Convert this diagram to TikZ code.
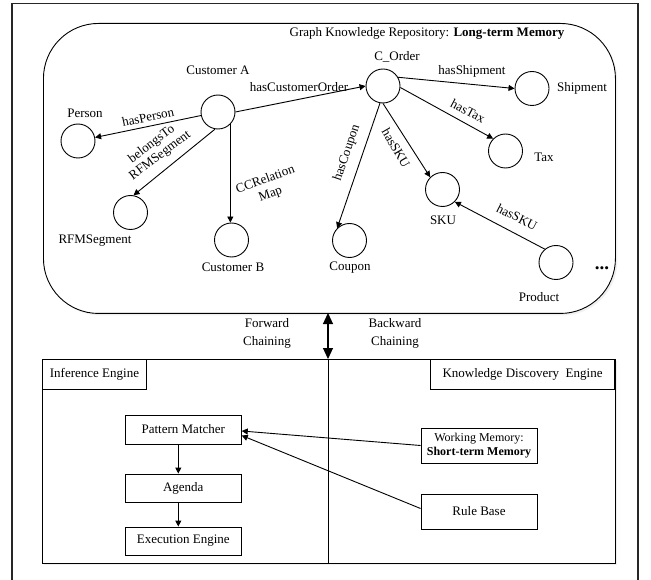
\documentclass[tikz,border=0pt]{standalone}
\usepackage{fontspec}
\setmainfont{Liberation Serif}
\usetikzlibrary{arrows.meta,shadows}

\begin{document}
\begin{tikzpicture}[x=1pt,y=-1pt,
  font=\fontsize{13}{15}\selectfont,
  >={Triangle[length=6pt,width=6pt]},
  ent/.style={circle,draw,line width=0.9pt,minimum size=34pt,inner sep=0pt},
  rel/.style={->,line width=0.9pt},
  box/.style={draw,line width=0.9pt,minimum width=116pt,inner sep=0pt,align=center},
  lbl/.style={inner sep=0pt,align=center},
  soft/.style={drop shadow={opacity=0.12,shadow xshift=2pt,shadow yshift=-2pt}}]
\useasboundingbox (0,0) rectangle (651,580);

% outer frame (open at the bottom edge of the page)
\draw[line width=1.3pt,black!85] (12,590) -- (12,3.5) -- (638,3.5) -- (638,590);

% long-term memory container
\node[draw,line width=0.9pt,rounded corners=55pt,minimum width=572pt,minimum height=290pt,
      anchor=north west,inner sep=0pt,soft,fill=white] (repo) at (43,23) {};
\node[lbl] (title) at (427,33) {Graph Knowledge Repository: \textbf{Long-term Memory}};

% engines container
\node[draw,line width=0.9pt,minimum width=573pt,minimum height=204pt,anchor=north west,
      inner sep=0pt,soft,fill=white] (engines) at (42,359) {};
\node[draw,line width=0.9pt,minimum width=104pt,minimum height=30pt,anchor=north west,inner sep=0pt]
      (ie) at (42,359) {Inference Engine};
\node[draw,line width=0.9pt,minimum width=184pt,minimum height=30pt,anchor=north east,inner sep=0pt]
      (kde) at (615,359) {Knowledge Discovery\ \ Engine};

% graph entities
\node[ent] (custA) at (218,112) {};
\node[ent] (person) at (78,141) {};
\node[ent] (rfm) at (130.5,212.5) {};
\node[ent] (custB) at (231.5,240) {};
\node[ent] (order) at (383,86) {};
\node[ent] (ship) at (532,88.5) {};
\node[ent] (tax) at (505.5,151) {};
\node[ent] (sku) at (442.5,189.5) {};
\node[ent] (coupon) at (349.5,240.5) {};
\node[ent] (product) at (556,262.5) {};

% entity names
\node[lbl] (tCustA) at (218,70) {Customer A};
\node[lbl] (tPerson) at (85,113) {Person};
\node[lbl] (tRfm) at (95,241) {RFMSegment};
\node[lbl] (tCustB) at (233,267) {Customer B};
\node[lbl] (tOrder) at (397,57) {C\_Order};
\node[lbl] (tShip) at (582,88) {Shipment};
\node[lbl] (tTax) at (544,157) {Tax};
\node[lbl] (tSku) at (443,220) {SKU};
\node[lbl] (tCoupon) at (350,268) {Coupon};
\node[lbl] (tProduct) at (539,297) {Product};
\node[lbl,font=\fontsize{19}{19}\selectfont] (more) at (602,268) {\textbf{...}};

% relations
\draw[rel] (custA) -- (person);
\draw[rel] (custA.-100) -- (rfm.80);
\draw[rel] (custA.-45) -- (custA.-45 |- custB.north);
\draw[rel] (custA.east) -- (order.west);
\draw[rel] (order.30) -- (ship.west);
\draw[rel] (order.-5) -- (tax.135);
\draw[rel] (order.south) -- (sku.135);
\draw[rel] (order.-100) -- (coupon.135);
\draw[rel] (product.130) -- (sku.-45);

% relation names
\node[lbl,rotate=12] (lPerson) at (148,117) {hasPerson};
\node[lbl,rotate=37,font=\fontsize{13}{14}\selectfont] (lRfm) at (156,150) {belongsTo\\RFMSegment};
\node[lbl,rotate=20,font=\fontsize{13}{15}\selectfont] (lCC) at (268,187) {CCRelation\\Map};
\node[lbl] (lOrder) at (299,87) {hasCustomerOrder};
\node[lbl] (lShip) at (472,71) {hasShipment};
\node[lbl,rotate=-28] (lTax) at (468,111) {hasTax};
\node[lbl,rotate=-60] (lSku) at (396,148) {hasSKU};
\node[lbl,rotate=71] (lCoupon) at (347,153) {hasCoupon};
\node[lbl,rotate=-27] (lSku2) at (517,217) {hasSKU};

% chaining link between repository and engines
\coordinate (chainTop) at (328,313);
\coordinate (chainBot) at (328,359);
\coordinate (divEnd) at (328,563);
\draw[{Triangle[length=11pt,width=10pt]}-{Triangle[length=11pt,width=10pt]},line width=1.1pt]
  (chainTop) -- (chainBot);
\draw[line width=0.9pt] (chainBot) -- (divEnd);
\node[lbl,font=\fontsize{13}{18}\selectfont] (fwd) at (267,333) {Forward\\Chaining};
\node[lbl,font=\fontsize{13}{18}\selectfont] (bwd) at (395,333) {Backward\\Chaining};

% inference engine parts
\node[box,minimum height=29pt] (pm) at (183.3,429.5) {Pattern Matcher};
\node[box,minimum height=28pt] (ag) at (183.3,488) {Agenda};
\node[box,minimum height=28pt] (ex) at (183.3,541) {Execution Engine};
\draw[rel] ([xshift=-5pt]pm.south) -- ([xshift=-5pt]ag.north);
\draw[rel] ([xshift=-5pt]ag.south) -- ([xshift=-5pt]ex.north);

% knowledge discovery parts
\node[box,minimum height=35pt,font=\fontsize{12}{14}\selectfont] (wm) at (479,445.5)
  {Working Memory:\\\textbf{Short-term Memory}};
\node[box,minimum height=35pt] (rb) at (479,511.5) {Rule Base};
\draw[rel] (wm.west) -- ([yshift=-1.5pt]pm.east);
\draw[rel] ([yshift=3pt]rb.west) -- ([yshift=-6pt]pm.east);
\end{tikzpicture}
\end{document}
